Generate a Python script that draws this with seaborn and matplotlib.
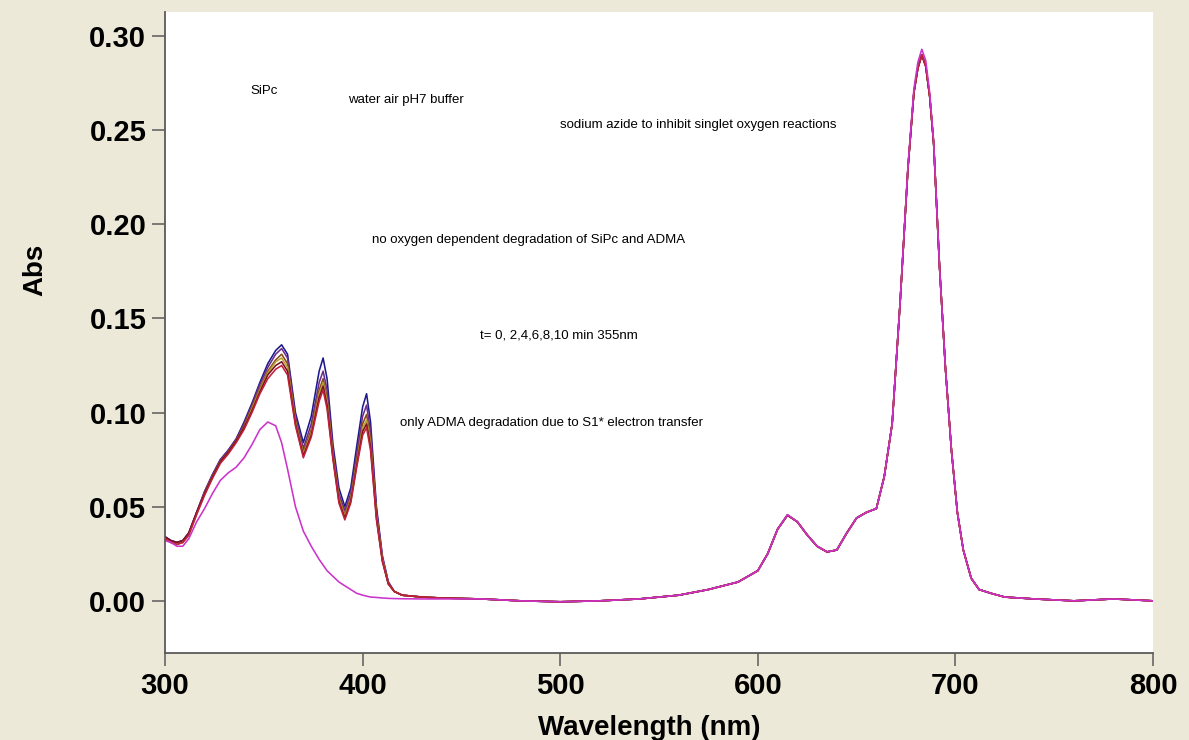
import matplotlib
matplotlib.use("Agg")
import matplotlib.pyplot as plt
import seaborn as sns
import pandas as pd

# UV region (Soret band of SiPc + ADMA bands), nm
wl_uv = [300, 303, 306, 309, 312, 316, 320, 324, 328, 332, 336, 340, 344, 348,
         352, 356, 359, 362, 366, 370, 374, 378, 380, 382, 385, 388, 391, 394,
         397, 400, 402, 404, 407, 410, 413, 416]

# Visible region (baseline + Q band), nm
wl_vis = [420, 430, 440, 460, 480, 500, 520, 540, 560, 575, 590, 600, 605, 610,
          615, 620, 625, 630, 635, 640, 645, 650, 655, 660, 664, 668, 672, 676,
          679, 681, 683, 685, 687, 689, 692, 695, 698, 701, 704, 708, 712, 718,
          725, 740, 760, 780, 800]

# SiPc + ADMA, irradiation times 0..10 min (UV part)
abs_t0 = [0.034, 0.032, 0.031, 0.032, 0.036, 0.047, 0.058, 0.067, 0.075, 0.080, 0.086, 0.095,
          0.105, 0.116, 0.126, 0.133, 0.136, 0.131, 0.100, 0.084, 0.098, 0.122, 0.129, 0.118,
          0.083, 0.060, 0.050, 0.060, 0.082, 0.103, 0.110, 0.095, 0.050, 0.024, 0.010, 0.005]
abs_t2 = [0.034, 0.032, 0.031, 0.032, 0.036, 0.047, 0.058, 0.067, 0.075, 0.080, 0.086, 0.094,
          0.104, 0.115, 0.124, 0.131, 0.134, 0.129, 0.098, 0.081, 0.094, 0.116, 0.122, 0.112,
          0.080, 0.057, 0.048, 0.057, 0.078, 0.098, 0.104, 0.090, 0.048, 0.023, 0.010, 0.005]
abs_t4 = [0.033, 0.031, 0.030, 0.031, 0.035, 0.046, 0.057, 0.066, 0.074, 0.079, 0.085, 0.093,
          0.103, 0.113, 0.122, 0.128, 0.131, 0.126, 0.096, 0.079, 0.091, 0.112, 0.118, 0.108,
          0.078, 0.055, 0.046, 0.055, 0.075, 0.094, 0.099, 0.086, 0.046, 0.022, 0.009, 0.005]
abs_t6 = [0.033, 0.031, 0.030, 0.031, 0.035, 0.046, 0.057, 0.066, 0.074, 0.079, 0.085, 0.092,
          0.102, 0.112, 0.121, 0.127, 0.129, 0.124, 0.095, 0.078, 0.089, 0.110, 0.116, 0.106,
          0.077, 0.054, 0.045, 0.054, 0.073, 0.092, 0.096, 0.084, 0.045, 0.022, 0.009, 0.005]
abs_t8 = [0.034, 0.032, 0.031, 0.032, 0.036, 0.047, 0.057, 0.066, 0.074, 0.079, 0.085, 0.092,
          0.101, 0.111, 0.120, 0.125, 0.127, 0.122, 0.094, 0.077, 0.088, 0.108, 0.114, 0.104,
          0.076, 0.053, 0.044, 0.053, 0.072, 0.090, 0.094, 0.082, 0.044, 0.021, 0.009, 0.005]
abs_t10 = [0.033, 0.031, 0.030, 0.031, 0.035, 0.046, 0.056, 0.065, 0.073, 0.078, 0.084, 0.091,
           0.100, 0.110, 0.118, 0.123, 0.125, 0.120, 0.093, 0.076, 0.087, 0.106, 0.112, 0.102,
           0.075, 0.052, 0.043, 0.052, 0.071, 0.088, 0.092, 0.080, 0.043, 0.021, 0.009, 0.005]

# SiPc alone (UV part)
abs_sipc = [0.032, 0.031, 0.029, 0.029, 0.033, 0.042, 0.049, 0.057, 0.064, 0.068, 0.071, 0.076,
            0.083, 0.091, 0.095, 0.093, 0.084, 0.070, 0.050, 0.037, 0.029, 0.022, 0.019, 0.016,
            0.013, 0.010, 0.008, 0.006, 0.004, 0.003, 0.0025, 0.002, 0.0018, 0.0015, 0.0013, 0.0012]

# Visible part: Q band is unchanged by irradiation
vis_mix = [0.003, 0.002, 0.0015, 0.001, 0.000, -0.0005, 0.000, 0.001, 0.003, 0.006, 0.010,
           0.016, 0.025, 0.038, 0.0455, 0.042, 0.035, 0.029, 0.026, 0.027, 0.036, 0.044, 0.047,
           0.049, 0.066, 0.094, 0.158, 0.230, 0.270, 0.283, 0.290, 0.284, 0.268, 0.243, 0.177,
           0.123, 0.080, 0.047, 0.027, 0.012, 0.006, 0.004, 0.002, 0.001, 0.000, 0.001, 0.000]
vis_sipc = [0.0011, 0.001, 0.001, 0.001, 0.000, -0.0005, 0.000, 0.001, 0.003, 0.006, 0.010,
            0.016, 0.025, 0.038, 0.0458, 0.042, 0.035, 0.029, 0.026, 0.027, 0.036, 0.044, 0.047,
            0.049, 0.066, 0.094, 0.158, 0.231, 0.272, 0.286, 0.293, 0.287, 0.270, 0.244, 0.177,
            0.123, 0.080, 0.047, 0.027, 0.012, 0.006, 0.004, 0.002, 0.001, 0.000, 0.001, 0.000]

series = {
    "t0": abs_t0 + vis_mix,
    "t2": abs_t2 + vis_mix,
    "t4": abs_t4 + vis_mix,
    "t6": abs_t6 + vis_mix,
    "t8": abs_t8 + vis_mix,
    "t10": abs_t10 + vis_mix,
    "SiPc": abs_sipc + vis_sipc,
}
colors = {
    "t0": "#1c1a8a",
    "t2": "#6b2c8f",
    "t4": "#8a4a1c",
    "t6": "#b5a22a",
    "t8": "#7a1020",
    "t10": "#c0203a",
    "SiPc": "#cc33cc",
}

wl = wl_uv + wl_vis
rows = []
for name, vals in series.items():
    for x, y in zip(wl, vals):
        rows.append({"wavelength": x, "abs": y, "series": name})
df = pd.DataFrame(rows)

sns.set_style("white")
plt.rcParams["font.family"] = ["Liberation Sans", "DejaVu Sans"]
plt.rcParams["text.color"] = "black"
plt.rcParams["axes.labelcolor"] = "black"
plt.rcParams["xtick.labelcolor"] = "black"
plt.rcParams["ytick.labelcolor"] = "black"

fig = plt.figure(figsize=(11.89, 7.40), dpi=100, facecolor="#ECE9D8")
ax = fig.add_axes([0.1388, 0.1176, 0.8309, 0.8662])
ax.set_facecolor("white")

sns.lineplot(data=df, x="wavelength", y="abs", hue="series", palette=colors,
             hue_order=list(series.keys()), sort=False, estimator=None,
             linewidth=1.15, legend=False, ax=ax)

ax.set_xlim(300, 800)
ax.set_ylim(-0.0277, 0.3128)
ax.set_xticks([300, 400, 500, 600, 700, 800])
ax.set_yticks([0.00, 0.05, 0.10, 0.15, 0.20, 0.25, 0.30])
ax.set_yticklabels([f"{v:.2f}" for v in ax.get_yticks()])

for side in ("top", "right"):
    ax.spines[side].set_visible(False)
for side in ("left", "bottom"):
    ax.spines[side].set_color("#5a5a5a")
    ax.spines[side].set_linewidth(1.3)

ax.tick_params(axis="both", direction="out", length=9.5, width=1.1, color="#5a5a5a",
               labelsize=21, labelcolor="black", pad=4, bottom=True, left=True)
for lab in ax.get_xticklabels() + ax.get_yticklabels():
    lab.set_fontweight("bold")

ax.set_xlabel("Wavelength (nm)", fontsize=20, fontweight="bold", color="black")
ax.set_ylabel("Abs", fontsize=20, fontweight="bold", color="black")
ax.xaxis.set_label_coords(0.49, -0.097)
ax.yaxis.set_label_coords(-0.118, 0.597)

notes = [
    (343.0, 0.2708, "SiPc"),
    (392.6, 0.2660, "water air pH7 buffer"),
    (499.9, 0.2527, "sodium azide to inhibit singlet oxygen reactions"),
    (404.8, 0.1916, "no oxygen dependent degradation of SiPc and ADMA"),
    (459.4, 0.1407, "t= 0, 2,4,6,8,10 min 355nm"),
    (418.9, 0.0945, "only ADMA degradation due to S1* electron transfer"),
]
for x, y, s in notes:
    ax.text(x, y, s, fontsize=9.5, ha="left", va="center", color="black")

fig.savefig("out.png", dpi=100, facecolor=fig.get_facecolor())
